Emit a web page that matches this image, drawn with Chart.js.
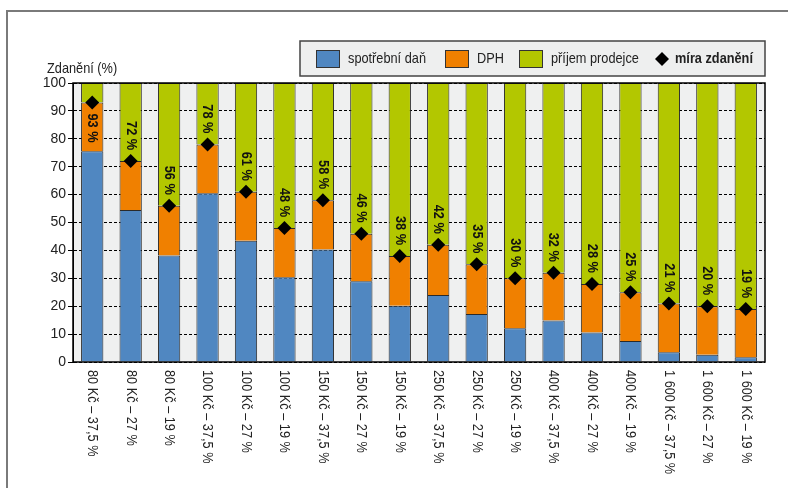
<!DOCTYPE html>
<html>
<head>
<meta charset="utf-8">
<script src="https://cdn.jsdelivr.net/npm/chart.js@4"></script>
<style>
    html, body { margin: 0; padding: 0; background: #fff; }
</style>
</head>
<body>
<canvas id="myChart" width="788" height="488"></canvas>
<script>
var kategorie = ['80 Kč – 37,5 %', '80 Kč – 27 %', '80 Kč – 19 %',
    '100 Kč – 37,5 %', '100 Kč – 27 %', '100 Kč – 19 %',
    '150 Kč – 37,5 %', '150 Kč – 27 %', '150 Kč – 19 %',
    '250 Kč – 37,5 %', '250 Kč – 27 %', '250 Kč – 19 %',
    '400 Kč – 37,5 %', '400 Kč – 27 %', '400 Kč – 19 %',
    '1 600 Kč – 37,5 %', '1 600 Kč – 27 %', '1 600 Kč – 19 %'];
var spotrebniDan = [75.5, 54.5, 38.2, 60.5, 43.5, 30.4, 40.3, 28.9, 20.2, 24.0, 17.2, 12.1, 14.9, 10.6, 7.5, 3.5, 2.6, 1.7];
var dph = [17.5, 17.5, 17.8, 17.5, 17.5, 17.6, 17.7, 17.1, 17.8, 18.0, 17.8, 17.9, 17.1, 17.4, 17.5, 17.5, 17.4, 17.3];
var prijemProdejce = [7, 28, 44, 22, 39, 52, 42, 54, 62, 58, 65, 70, 68, 72, 75, 79, 80, 81];
var miraZdaneni = [93, 72, 56, 78, 61, 48, 58, 46, 38, 42, 35, 30, 32, 28, 25, 21, 20, 19];
var yTicks = [0, 10, 20, 30, 40, 50, 60, 70, 80, 90, 100];

var FONT = "'Liberation Sans', Arial, sans-serif";
var MODRA = '#5087c1';
var ORANZOVA = '#f08000';
var ZELENA = '#b3c700';

// uzsi pismo: text se stlaci vodorovne
function uzkyText(ctx, txt, x, y, uhel, zarovnani, dx) {
    ctx.save();
    ctx.translate(x, y);
    ctx.rotate(uhel);
    ctx.scale(0.85, 1);
    ctx.textAlign = zarovnani;
    ctx.fillText(txt, dx / 0.85, 0);
    ctx.restore();
}

// pozadi, ramecek, popisky, legenda
var kresba = {
    id: 'kresba',
    beforeDraw: function (chart) {
        var ctx = chart.ctx;
        var a = chart.chartArea;
        ctx.save();
        ctx.fillStyle = '#fff';
        ctx.fillRect(0, 0, chart.width, chart.height);
        ctx.strokeStyle = '#7a7a7a';
        ctx.lineWidth = 2;
        ctx.beginPath();
        ctx.moveTo(7, 488);
        ctx.lineTo(7, 11);
        ctx.lineTo(788, 11);
        ctx.stroke();
        ctx.fillStyle = '#eff0f0';
        ctx.fillRect(a.left, a.top, a.right - a.left, a.bottom - a.top);
        ctx.restore();
    },
    afterDatasetsDraw: function (chart) {
        var ctx = chart.ctx;
        var a = chart.chartArea;
        ctx.save();
        ctx.strokeStyle = '#000';
        ctx.lineWidth = 1.5;
        ctx.strokeRect(a.left, a.top, a.right - a.left, a.bottom - a.top);

        // popisky miry zdaneni
        var meta = chart.getDatasetMeta(3);
        ctx.fillStyle = '#111';
        ctx.font = 'bold 15px ' + FONT;
        ctx.textBaseline = 'middle';
        meta.data.forEach(function (pt, i) {
            var txt = miraZdaneni[i] + ' %';
            var w = ctx.measureText(txt).width * 0.85;
            if (pt.y - a.top > w + 14) {
                uzkyText(ctx, txt, pt.x, pt.y, Math.PI / 2, 'right', -11);
            } else {
                uzkyText(ctx, txt, pt.x, pt.y, Math.PI / 2, 'left', 11);
            }
        });

        // popisky osy x
        var x = chart.scales.x;
        ctx.fillStyle = '#222';
        ctx.font = '15px ' + FONT;
        ctx.textBaseline = 'middle';
        kategorie.forEach(function (k, i) {
            uzkyText(ctx, k, x.getPixelForValue(i), a.bottom + 8, Math.PI / 2, 'left', 0);
        });

        // nazev osy y
        ctx.textBaseline = 'alphabetic';
        uzkyText(ctx, 'Zdanění (%)', 47, 73, 0, 'left', 0);

        // legenda
        ctx.fillStyle = '#eeefef';
        ctx.fillRect(300, 41, 465, 35);
        ctx.strokeStyle = '#444';
        ctx.lineWidth = 1.5;
        ctx.strokeRect(300, 41, 465, 35);
        var polozky = [
            {x: 316, barva: MODRA, text: 'spotřební daň'},
            {x: 445, barva: ORANZOVA, text: 'DPH'},
            {x: 519, barva: ZELENA, text: 'příjem prodejce'}
        ];
        ctx.lineWidth = 1;
        ctx.textBaseline = 'middle';
        polozky.forEach(function (p) {
            ctx.fillStyle = p.barva;
            ctx.fillRect(p.x, 50, 23, 17);
            ctx.strokeStyle = '#333';
            ctx.strokeRect(p.x + 0.5, 50.5, 23, 17);
            ctx.fillStyle = '#222';
            ctx.font = '15px ' + FONT;
            uzkyText(ctx, p.text, p.x + 32, 59, 0, 'left', 0);
        });
        ctx.fillStyle = '#000';
        ctx.beginPath();
        ctx.moveTo(662, 52);
        ctx.lineTo(669, 59);
        ctx.lineTo(662, 66);
        ctx.lineTo(655, 59);
        ctx.closePath();
        ctx.fill();
        ctx.fillStyle = '#222';
        ctx.font = 'bold 15px ' + FONT;
        uzkyText(ctx, 'míra zdanění', 675, 59, 0, 'left', 0);
        ctx.restore();
    }
};

var ctx = document.getElementById('myChart').getContext('2d');
var myChart = new Chart(ctx, {
    type: 'bar',
    data: {
        labels: kategorie,
        datasets: [{
                label: 'spotřební daň',
                data: spotrebniDan,
                backgroundColor: MODRA,
                order: 1
            }, {
                label: 'DPH',
                data: dph,
                backgroundColor: ORANZOVA,
                order: 1
            }, {
                label: 'příjem prodejce',
                data: prijemProdejce,
                backgroundColor: ZELENA,
                order: 1
            }, {
                type: 'line',
                label: 'míra zdanění',
                data: miraZdaneni,
                showLine: false,
                pointStyle: 'rectRot',
                pointRadius: 7,
                pointBackgroundColor: '#000',
                pointBorderColor: '#000',
                pointBorderWidth: 0,
                order: 0
            }]
    },
    options: {
        responsive: false,
        animation: false,
        devicePixelRatio: 1,
        layout: {padding: {top: 83, right: 23, left: 0, bottom: 0}},
        datasets: {
            bar: {
                borderColor: '#2a2a2a',
                borderWidth: 1,
                categoryPercentage: 1,
                barPercentage: 0.58
            }
        },
        scales: {
            x: {
                stacked: true,
                grid: {display: false},
                border: {display: false},
                ticks: {display: false},
                afterFit: function (s) { s.height = 126; }
            },
            y: {
                stacked: true,
                min: 0,
                max: 100,
                afterBuildTicks: function (s) {
                    s.ticks = yTicks.map(function (v) { return {value: v}; });
                },
                afterFit: function (s) { s.width = 73; },
                grid: {
                    color: '#000',
                    lineWidth: 1,
                    tickLength: 5,
                    tickColor: '#000'
                },
                border: {display: true, color: '#000', width: 1, dash: [3, 2]},
                ticks: {
                    color: '#222',
                    padding: 2,
                    font: {family: FONT, size: 14}
                }
            }
        },
        plugins: {
            legend: {display: false},
            tooltip: {enabled: false}
        }
    },
    plugins: [kresba]
});
</script>
</body>
</html>
